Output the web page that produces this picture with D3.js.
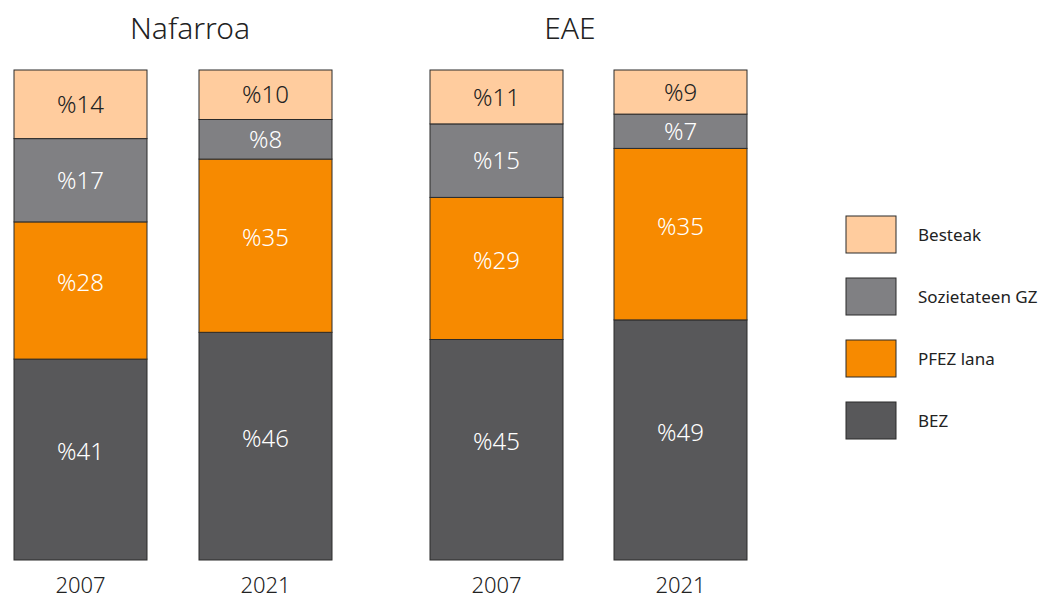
<!DOCTYPE html>
<html><head><meta charset="utf-8">
<script src="https://cdn.jsdelivr.net/npm/d3@7"></script>
<style>body{margin:0;background:#fff}svg{display:block;font-family:"Noto Sans","Open Sans",sans-serif}</style>
</head><body><svg id="c" width="1054" height="599"></svg>
<script>
const regions = ["Nafarroa", "EAE"];
const years = ["2007", "2021"];
const series = ["BEZ", "PFEZ lana", "Sozietateen GZ", "Besteak"];
const legendOrder = ["Besteak", "Sozietateen GZ", "PFEZ lana", "BEZ"];
const BEZ = [41, 46, 45, 49];
const PFEZ = [28, 35, 29, 35];
const SOZ = [17, 8, 15, 7];
const BESTEAK = [14, 10, 11, 9];
const colors = ["#58585a", "#f78a00", "#808083", "#ffcc9e"];
const textColors = ["#ffffff", "#ffffff", "#ffffff", "#222222"];

const bars = [];
regions.forEach((r, i) => years.forEach((y, j) => {
  const k = i * 2 + j;
  bars.push({key: r + "-" + y, region: r, year: y, "BEZ": BEZ[k], "PFEZ lana": PFEZ[k], "Sozietateen GZ": SOZ[k], "Besteak": BESTEAK[k]});
}));

const svg = d3.select("#c");
const x = d3.scaleOrdinal().domain(bars.map(d => d.key)).range([14, 199, 430, 614]);
const bw = 133;
const y = d3.scaleLinear().domain([0, 1]).range([560, 70]);
const color = d3.scaleOrdinal().domain(series).range(colors);
const tcol = d3.scaleOrdinal().domain(series).range(textColors);

const stacked = d3.stack().keys(series).offset(d3.stackOffsetExpand)(bars);

const g = svg.append("g");
stacked.forEach((layer, li) => {
  const s = layer.key;
  layer.forEach((seg, bi) => {
    const d = seg.data;
    g.append("rect")
      .attr("x", x(d.key)).attr("y", y(seg[1]))
      .attr("width", bw).attr("height", y(seg[0]) - y(seg[1]))
      .attr("fill", color(s)).attr("stroke", "#2b2b2b").attr("stroke-width", 1);
    const h = y(seg[0]) - y(seg[1]);
    const shift = h > 120 ? -8 : 0;
    g.append("text")
      .attr("x", x(d.key) + bw / 2).attr("y", (y(seg[0]) + y(seg[1])) / 2 + shift)
      .attr("dy", "0.36em").attr("text-anchor", "middle")
      .attr("font-size", 24).attr("font-weight", 300).attr("fill", tcol(s))
      .text("%" + d[s]);
  });
});

// year labels
bars.forEach(d => {
  svg.append("text").attr("x", x(d.key) + bw / 2).attr("y", 593)
    .attr("text-anchor", "middle").attr("font-size", 22).attr("font-weight", 300).attr("fill", "#222")
    .text(d.year);
});

// region titles
const titleX = {"Nafarroa": 190, "EAE": 570};
regions.forEach(r => {
  svg.append("text").attr("x", titleX[r]).attr("y", 39)
    .attr("text-anchor", "middle").attr("font-size", 30).attr("font-weight", 300).attr("fill", "#222")
    .text(r);
});

// legend
const ly = d3.scalePoint().domain(legendOrder).range([216, 402]);
legendOrder.forEach(s => {
  svg.append("rect").attr("x", 846).attr("y", ly(s)).attr("width", 50).attr("height", 37)
    .attr("fill", color(s)).attr("stroke", "#2b2b2b").attr("stroke-width", 1);
  svg.append("text").attr("x", 918).attr("y", ly(s) + 18.5).attr("dy", "0.36em")
    .attr("font-size", 17).attr("fill", "#222").text(s);
});
</script></body></html>
